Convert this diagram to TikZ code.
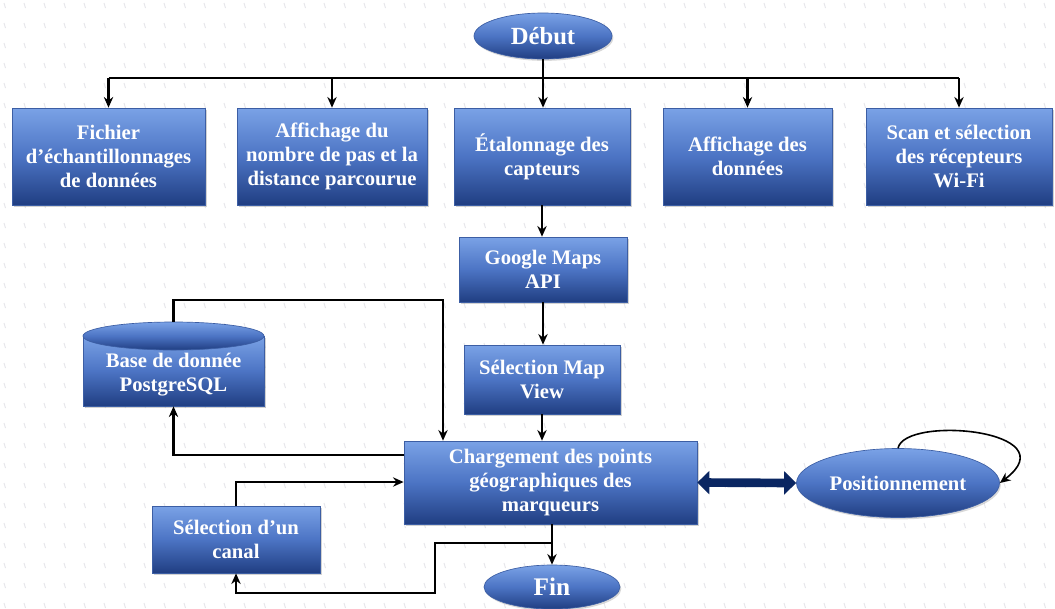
\documentclass[tikz,border=0pt]{standalone}
\usepackage{fontspec}
\setmainfont{Liberation Serif}
\usetikzlibrary{arrows.meta,shadows,shapes.geometric}

\definecolor{boxtop}{RGB}{122,162,230}
\definecolor{boxmid}{RGB}{76,116,196}
\definecolor{boxbot}{RGB}{32,62,130}
\definecolor{boxedge}{RGB}{60,94,164}
\definecolor{navy}{RGB}{10,38,98}
\definecolor{texture}{RGB}{230,230,234}

\tikzset{
  sz/.style 2 args={minimum width=#1*0.75pt, minimum height=#2*0.75pt},
  blockfill/.style={top color=boxtop, bottom color=boxbot, middle color=boxmid,
    draw=boxedge, line width=0.5pt},
  blocktext/.style={align=center, text=white,
    font=\fontsize{15.5}{18}\selectfont\bfseries},
  block/.style={rectangle, blockfill, inner sep=0pt, blocktext,
    drop shadow={shadow xshift=1.2pt, shadow yshift=-1.6pt, opacity=0.35}},
  oval/.style={ellipse, blockfill, inner sep=0pt, blocktext,
    drop shadow={shadow xshift=1pt, shadow yshift=-1.4pt, opacity=0.3}},
  link/.style={line width=1.6pt, black},
  arr/.style={link, -{Stealth[length=8pt,width=7pt]}},
  bothway/.style={navy, line width=6.5pt,
    {Triangle[length=9pt,width=17pt]}-{Triangle[length=9pt,width=17pt]}},
}

\begin{document}
\begin{tikzpicture}[x=0.75pt,y=-0.75pt]
\useasboundingbox (0,0) rectangle (1055,608);
\fill[white] (0,0) rectangle (1055,608);

% faint wallpaper texture
\foreach \i in {0,...,53}{
  \foreach \j in {0,...,30}{
    \draw[texture, line width=0.7pt] (\i*20+4,\j*20+3) -- ++(1.5,5);
  }
}

% start node
\node[oval, sz={138}{46}, font=\fontsize{18.5}{20}\selectfont\bfseries] (start) at (543,36) {Début};

% first row of tasks
\node[block, sz={193}{97}] (b1) at (108.5,156.5) {Fichier\\d’échantillonnages\\de données};
\node[block, sz={190}{97}] (b2) at (332,156.5) {Affichage du\\nombre de pas et la\\distance parcourue};
\node[block, sz={176}{97}] (b3) at (542,156.5) {Étalonnage des\\capteurs};
\node[block, sz={169}{97}] (b4) at (747.5,156.5) {Affichage des\\données};
\node[block, sz={186}{97}] (b5) at (959,156.5) {Scan et sélection\\des récepteurs\\Wi-Fi};

% map chain
\node[block, sz={168}{65}] (gm) at (543,269.5) {Google Maps\\API};
\node[block, sz={156}{69}] (smv) at (542,379.5) {Sélection Map\\View};
\node[block, sz={293}{83}] (charg) at (550.5,482.5) {Chargement des points\\géographiques des\\marqueurs};

% database (cylinder): body, lid, then label on top
\node[block, sz={181}{70}] (db) at (173.5,371) {};
\node[ellipse, blockfill, inner sep=0pt, sz={181}{28}] (dbtop) at (173.5,336) {};
\node[blocktext] (dblabel) at (173.5,375) {Base de donnée\\PostgreSQL};

% channel selection
\node[block, sz={168}{67}] (canal) at (236,539.5) {Sélection d’un\\canal};

% end and positioning
\node[oval, sz={136}{44}, font=\fontsize{19}{20}\selectfont\bfseries] (fin) at (552,587) {Fin};
\node[oval, sz={203}{69}] (pos) at (898,483) {Positionnement};

% routing points
\coordinate (busy) at (0,78);
\coordinate (dbroute) at (443,300);
\coordinate (dbin) at (0,455);
\coordinate (canin) at (0,482);
\coordinate (split) at (552,543);
\coordinate (loopc) at (435,593);

% connectors
\draw[arr] (start.south) -- (start.south |- b3.north);
\draw[link] (b1.north |- busy) -- (b5.north |- busy);
\foreach \n in {b1,b2,b4,b5}{
  \draw[arr] (\n.north |- busy) -- (\n.north);
}
\draw[arr] (b3.south) -- (b3.south |- gm.north);
\draw[arr] (gm.south) -- (gm.south |- smv.north);
\draw[arr] (smv.south) -- (smv.south |- charg.north);
\draw[arr] (dbtop.north) |- (dbroute) -- (dbroute |- charg.north);
\draw[arr] (charg.west |- dbin) -| (db.south);
\draw[arr] (canal.north) |- (charg.west |- canin);
\draw[arr] (fin.north |- charg.south) -- (fin.north);
\draw[arr] (split) -| (loopc) -| (canal.south);
\draw[bothway] (charg.east) -- (pos.west);
\draw[arr, line width=1.2pt] (pos.north) .. controls (905,415) and (1070,430) .. (pos.east);
\end{tikzpicture}
\end{document}
